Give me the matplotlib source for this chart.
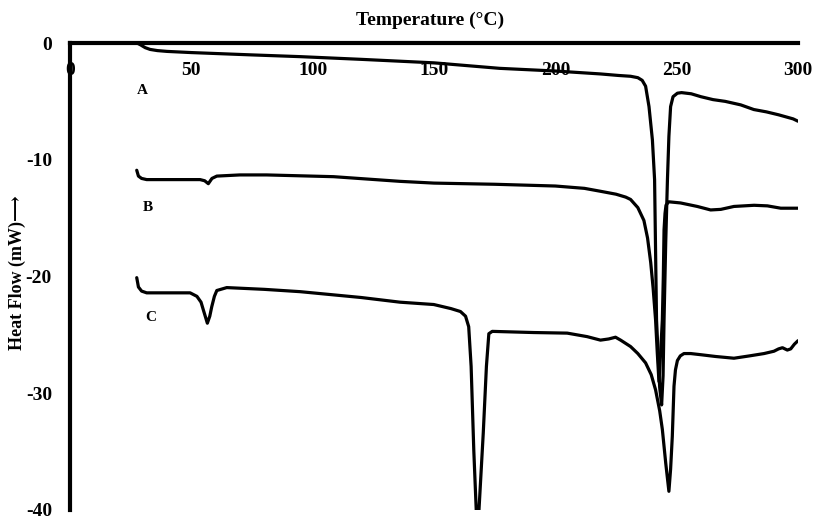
import matplotlib
matplotlib.use("Agg")
import matplotlib.pyplot as plt

# ---- data ----
A_x = [27.6, 29, 31, 33, 36, 40, 50, 60, 75, 95, 120, 150, 177, 200, 218.6, 226, 231, 234,
       235.8, 237.2, 238.6, 240, 240.9, 241.7, 243.0, 243.8, 244.4, 244.8, 245.5, 246.2,
       246.8, 247.5, 248.5, 250.3, 252, 256, 260, 265, 270, 276.4, 281.8, 287, 292, 298, 300]
A_y = [0, -0.15, -0.4, -0.55, -0.65, -0.72, -0.82, -0.9, -1.02, -1.17, -1.4, -1.7, -2.17,
       -2.4, -2.65, -2.78, -2.85, -2.97, -3.2, -3.7, -5.45, -8.3, -11.7, -23.7, -29.5,
       -31.0, -28.5, -23.7, -17, -11.7, -8, -5.45, -4.6, -4.3, -4.25, -4.35, -4.6, -4.85,
       -5.0, -5.3, -5.7, -5.9, -6.15, -6.5, -6.7]

B_x = [27.5, 28.2, 29.5, 31.6, 40, 46.7, 53.6, 55.5, 57, 58.5, 60.5, 70, 81, 108.6, 136,
       150, 175, 200, 212, 218.6, 225, 229, 231, 234, 236.5, 238, 239.3, 240.3, 241.3,
       242.0, 242.7, 243.4, 244.1, 244.5, 244.8, 245.2, 245.6, 246.7, 251.6, 258.5, 264,
       268.2, 273.6, 281.9, 287.4, 292.9, 300]
B_y = [-10.9, -11.4, -11.6, -11.7, -11.7, -11.7, -11.7, -11.8, -12.05, -11.6, -11.4, -11.3,
       -11.3, -11.45, -11.85, -12.0, -12.1, -12.25, -12.45, -12.7, -12.95, -13.2, -13.4,
       -14.1, -15.2, -16.7, -18.8, -21.0, -23.7, -26.5, -29.0, -26.5, -23.7, -20.0, -16.0,
       -14.6, -13.9, -13.6, -13.7, -14.0, -14.3, -14.25, -14.0, -13.9, -13.95, -14.15, -14.15]

C_x = [27.5, 28.2, 29.5, 31.6, 40, 49.5, 52.3, 54, 55, 56.6, 57.6, 58.4, 59.5, 60.5, 64.6,
       80, 94.9, 120, 136, 149.9, 157, 160.9, 163, 164.3, 165.3, 166.4, 167.5, 168.0, 168.4,
       170.3, 171.6, 172.6, 174, 191.1, 204.9, 213.1, 218.6, 222, 224.8, 226.9, 231, 234,
       237.2, 239.5, 241.3, 243, 244.1, 245.5, 246.8, 247.5, 248.2, 248.9, 249.5, 250.3,
       251.5, 253, 255.8, 260, 266, 273.6, 280, 286, 290.1, 292, 293.6, 295.6, 297, 298.5, 300]
C_y = [-20.1, -20.9, -21.25, -21.4, -21.4, -21.4, -21.7, -22.2, -22.9, -24.0, -23.4, -22.6,
       -21.7, -21.2, -20.95, -21.1, -21.3, -21.8, -22.2, -22.4, -22.75, -23.0, -23.4, -24.3,
       -27.7, -34.9, -40.5, -41.0, -40.5, -33.4, -27.7, -24.9, -24.7, -24.8, -24.85, -25.15,
       -25.45, -25.35, -25.2, -25.45, -26.0, -26.6, -27.4, -28.4, -29.7, -31.5, -33.1,
       -36.0, -38.4, -36.5, -33.7, -29.4, -28.0, -27.2, -26.8, -26.6, -26.6, -26.7, -26.85,
       -27.0, -26.8, -26.6, -26.4, -26.2, -26.1, -26.3, -26.2, -25.8, -25.5]

curve_labels = ["A", "B", "C"]
label_x = [30.0, 32.0, 33.4]
label_y = [-4.1, -14.1, -23.55]

x_ticks = [0, 50, 100, 150, 200, 250, 300]
y_ticks = [0, -10, -20, -30, -40]

# ---- figure ----
FONT = ["Liberation Serif", "DejaVu Serif", "DejaVu Sans"]
plt.rcParams["font.family"] = FONT
plt.rcParams["font.weight"] = "bold"

fig = plt.figure(figsize=(8.16, 5.23), dpi=100)
ax = fig.add_axes([70 / 816, 1 - 510 / 523, 728 / 816, 467 / 523])

for xs, ys in [(A_x, A_y), (B_x, B_y), (C_x, C_y)]:
    ax.plot(xs, ys, color="black", lw=2.3, solid_joinstyle="round", solid_capstyle="round")

for t, lx, ly in zip(curve_labels, label_x, label_y):
    ax.text(lx, ly, t, fontsize=11, fontweight="bold", ha="center", va="center")

ax.set_xlim(0, 300)
ax.set_ylim(-40, 0)

for s in ["bottom", "right"]:
    ax.spines[s].set_visible(False)
for s in ["top", "left"]:
    ax.spines[s].set_linewidth(3.0)

ax.set_xticks(x_ticks)
ax.set_xticklabels([str(v) for v in x_ticks])
ax.set_yticks(y_ticks)
ax.set_yticklabels([str(v) for v in y_ticks])
ax.tick_params(axis="x", top=True, labeltop=True, bottom=False, labelbottom=False,
               length=0, pad=-26, labelsize=14)
ax.tick_params(axis="y", length=0, pad=13, labelsize=14)
for lab in ax.get_xticklabels() + ax.get_yticklabels():
    lab.set_fontweight("bold")

ax.set_ylabel("Heat Flow (mW)\u27f6", fontsize=13, fontweight="bold", va="center")
ax.yaxis.set_label_coords(-0.073, 0.5086)

fig.text(430 / 816, 1 - 20 / 523, "Temperature (°C)", fontsize=14, fontweight="bold",
         ha="center", va="center")

fig.savefig("out.png", dpi=100)
